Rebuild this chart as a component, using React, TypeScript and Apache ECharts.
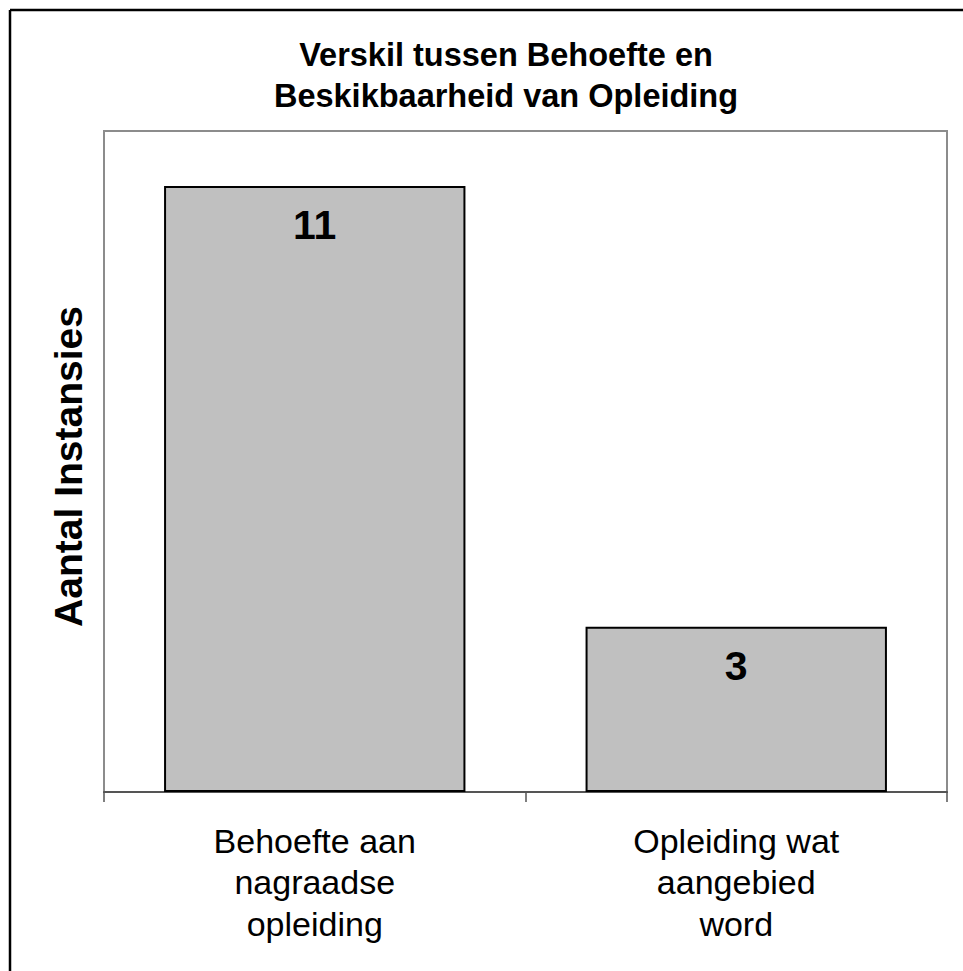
import React, { useEffect, useRef } from "react";
import * as echarts from "echarts";

const titleLines = ["Verskil tussen Behoefte en", "Beskikbaarheid van Opleiding"];
const yAxisName = "Aantal Instansies";
const categories = [
  "Behoefte aan\nnagraadse\nopleiding",
  "Opleiding wat\naangebied\nword",
];
const values = [11, 3];
const yMax = 12;

const FONT = "'Liberation Sans', Arial, Helvetica, sans-serif";

export default function App() {
  const ref = useRef<HTMLDivElement>(null);
  useEffect(() => {
    if (!ref.current) return;
    const chart = echarts.init(ref.current, null, { renderer: "svg" });
    chart.setOption({
      animation: false,
      backgroundColor: "#ffffff",
      title: {
        text: titleLines.join("\n"),
        left: 506,
        textAlign: "center",
        top: 34,
        padding: 0,
        textStyle: {
          fontFamily: FONT,
          fontSize: 32.5,
          fontWeight: "bold",
          color: "#000",
          lineHeight: 41.5,
        },
      },
      grid: {
        left: 104,
        right: 16,
        top: 131,
        bottom: 179,
        show: true,
        borderColor: "#8c8c8c",
        borderWidth: 2,
        backgroundColor: "transparent",
      },
      xAxis: {
        type: "category",
        data: categories,
        axisLine: { show: true, lineStyle: { color: "#555", width: 2 } },
        axisTick: { show: true, length: 10, lineStyle: { color: "#555", width: 1.5 } },
        axisLabel: {
          margin: 28,
          fontFamily: FONT,
          fontSize: 34,
          color: "#000",
          lineHeight: 41.5,
          align: "center",
        },
        splitLine: { show: false },
      },
      yAxis: {
        type: "value",
        min: 0,
        max: yMax,
        name: yAxisName,
        nameLocation: "middle",
        nameGap: 16,
        nameTextStyle: {
          fontFamily: FONT,
          fontSize: 39,
          fontWeight: "bold",
          color: "#000",
          padding: [0, 10, 0, 0],
        },
        axisLine: { show: false },
        axisTick: { show: false },
        axisLabel: { show: false },
        splitLine: { show: false },
      },
      series: [
        {
          type: "bar",
          data: values,
          barCategoryGap: "28.5%",
          itemStyle: { color: "#c0c0c0", borderColor: "#000", borderWidth: 2 },
          label: {
            show: true,
            position: "insideTop",
            distance: 19,
            fontFamily: FONT,
            fontSize: 41,
            fontWeight: "bold",
            color: "#000",
            lineHeight: 40,
          },
        },
      ],
      graphic: [
        {
          type: "line",
          shape: { x1: 10, y1: 10, x2: 963, y2: 10 },
          style: { stroke: "#000", lineWidth: 2.5 },
        },
        {
          type: "line",
          shape: { x1: 10, y1: 10, x2: 10, y2: 971 },
          style: { stroke: "#000", lineWidth: 2.5 },
        },
      ],
    });
    return () => chart.dispose();
  }, []);
  return (
    <div
      ref={ref}
      style={{ position: "fixed", left: 0, top: 0, width: 963, height: 971 }}
    />
  );
}
